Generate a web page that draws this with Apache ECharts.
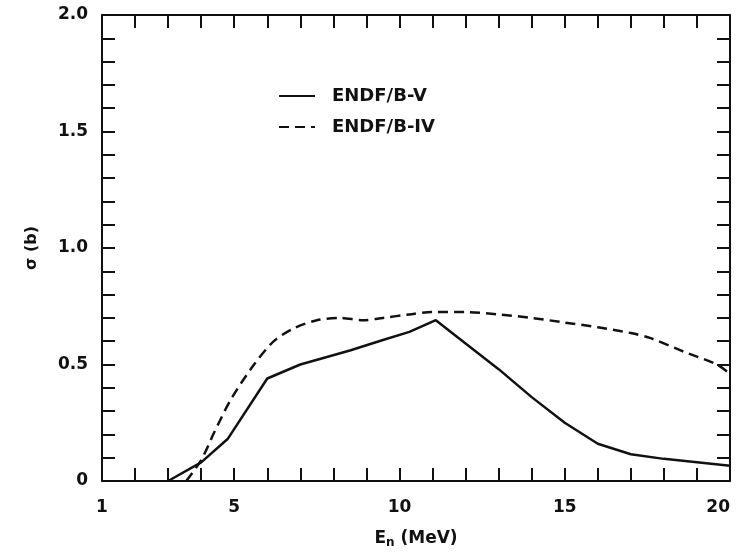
<!DOCTYPE html>
<html>
<head>
<meta charset="utf-8">
<script src="https://cdn.jsdelivr.net/npm/echarts@6/dist/echarts.min.js"></script>
<style>
  html, body { margin: 0; padding: 0; background: #fff; }
  #chart { width: 736px; height: 559px; }
</style>
</head>
<body>
<div id="chart"></div>
<script>
// cross sections, [E_n (MeV), sigma (b)]
const endfB5 = [
  [3.0, 0], [4.0, 0.08], [4.8, 0.18], [6.0, 0.44], [7.0, 0.50], [8.5, 0.56],
  [9.5, 0.605], [10.3, 0.64], [11.1, 0.69], [12.0, 0.59], [13.0, 0.48],
  [14.0, 0.36], [15.0, 0.25], [16.0, 0.16], [17.0, 0.115], [18.0, 0.095],
  [19.0, 0.08], [20.0, 0.065]
]
const endfB4 = [
  [3.55, 0], [4.0, 0.09], [4.4, 0.21], [4.9, 0.35], [5.6, 0.50], [6.2, 0.60],
  [6.8, 0.655], [7.5, 0.69], [8.2, 0.70], [8.9, 0.69], [9.5, 0.70],
  [10.3, 0.715], [11.0, 0.725], [12.0, 0.725], [13.0, 0.715], [14.0, 0.70],
  [15.0, 0.68], [16.0, 0.66], [17.0, 0.635], [17.6, 0.613], [18.6, 0.555],
  [19.6, 0.50], [20.0, 0.46]
]
const xLabels = [1, 5, 10, 15, 20]
const yLabels = { 0: '0', 0.5: '0.5', 1: '1.0', 1.5: '1.5', 2: '2.0' }

const font = 'DejaVu Sans'
const ink = '#111'

const tickStyle = { inside: true, length: 13, lineStyle: { color: ink, width: 2 } }
const lineStyle = { onZero: false, lineStyle: { color: ink, width: 2 } }

const chart = echarts.init(document.getElementById('chart'))

const xBase = {
  type: 'value', min: 1, max: 20, interval: 1,
  axisLine: lineStyle, axisTick: tickStyle, splitLine: { show: false }
}
const yBase = {
  type: 'value', min: 0, max: 2, interval: 0.1,
  axisLine: lineStyle, axisTick: tickStyle, splitLine: { show: false }
}

chart.setOption({
  animation: false,
  backgroundColor: '#fff',
  textStyle: { fontFamily: font, color: ink },
  grid: { left: 102, right: 6, top: 15, bottom: 78 },
  legend: {
    left: 273, top: 82, orient: 'vertical',
    itemWidth: 36, itemHeight: 14, itemGap: 13,
    itemStyle: { opacity: 0 },
    textStyle: { fontFamily: font, fontSize: 18, fontWeight: 'bold', color: ink, padding: [0, 0, 0, 12] },
    data: ['ENDF/B-V', 'ENDF/B-IV']
  },
  xAxis: [
    {
      ...xBase, position: 'bottom',
      name: 'E{sub|n} (MeV)', nameLocation: 'middle', nameGap: 48,
      nameTextStyle: {
        fontFamily: font, fontSize: 17, fontWeight: 'bold', color: ink,
        rich: { sub: { fontFamily: font, fontSize: 12, fontWeight: 'bold', color: ink, verticalAlign: 'bottom', padding: [8, 0, 0, 0] } }
      },
      axisLabel: {
        margin: 18, fontFamily: font, fontSize: 17, fontWeight: 'bold', color: ink,
        alignMaxLabel: 'right',
        formatter: v => xLabels.includes(v) ? String(v) : ''
      }
    },
    { ...xBase, position: 'top', axisLabel: { show: false } }
  ],
  yAxis: [
    {
      ...yBase, position: 'left',
      name: 'σ (b)', nameLocation: 'middle', nameGap: 62, nameRotate: 90,
      nameTextStyle: { fontFamily: font, fontSize: 16, fontWeight: 'bold', color: ink },
      axisLabel: {
        margin: 14, fontFamily: font, fontSize: 17, fontWeight: 'bold', color: ink,
        formatter: v => {
          const k = Math.round(v * 10) / 10
          return yLabels[k] !== undefined && Math.abs(v * 2 - Math.round(v * 2)) < 1e-6 ? yLabels[k] : ''
        }
      }
    },
    { ...yBase, position: 'right', axisLabel: { show: false } }
  ],
  series: [
    {
      name: 'ENDF/B-V', type: 'line', data: endfB5, symbol: 'none',
      xAxisIndex: 0, yAxisIndex: 0,
      lineStyle: { color: ink, width: 2.5, type: 'solid' },
      itemStyle: { color: ink }
    },
    {
      name: 'ENDF/B-IV', type: 'line', data: endfB4, symbol: 'none', smooth: 0.3,
      xAxisIndex: 0, yAxisIndex: 0,
      lineStyle: { color: ink, width: 2.5, type: [10, 6] },
      itemStyle: { color: ink }
    }
  ]
})
</script>
</body>
</html>
